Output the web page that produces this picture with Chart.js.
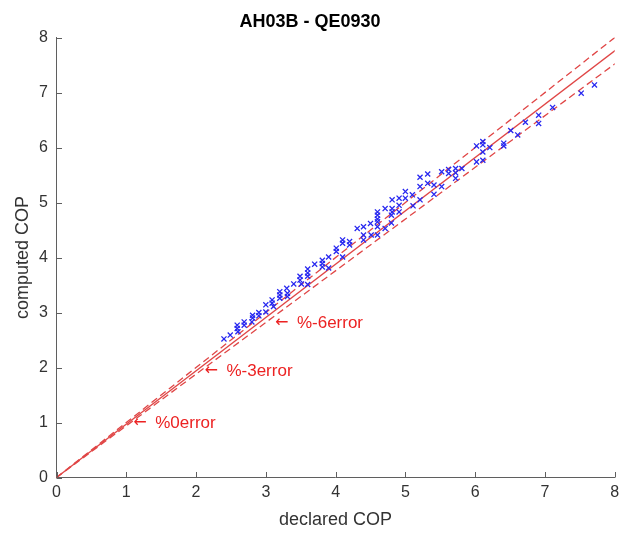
<!DOCTYPE html>
<html><head><meta charset="utf-8">
<script src="https://cdn.jsdelivr.net/npm/chart.js@4"></script>
<style>html,body{margin:0;padding:0;background:#fff;}</style>
</head><body>
<canvas id="c" width="620" height="534" style="display:block;width:620px;height:534px"></canvas>
<script>
const titleText = 'AH03B - QE0930';
const xTitle = 'declared COP';
const yTitle = 'computed COP';
const xTicks = [0, 1, 2, 3, 4, 5, 6, 7, 8];
const yTicks = [0, 1, 2, 3, 4, 5, 6, 7, 8];
const declared = [2.40,2.49,2.59,2.59,2.60,2.69,2.69,2.81,2.81,2.80,2.90,2.90,3.00,3.00,3.09,3.09,3.11,3.20,3.20,3.20,
  3.30,3.31,3.31,3.40,3.49,3.49,3.51,3.60,3.60,3.60,3.60,3.70,3.81,3.81,3.81,3.90,3.90,4.01,4.01,4.10,
  4.10,4.10,4.20,4.20,4.31,4.40,4.40,4.40,4.50,4.51,4.60,4.60,4.60,4.60,4.60,4.60,4.71,4.71,4.81,4.81,
  4.81,4.80,4.80,4.91,4.91,4.91,5.00,5.00,5.10,5.11,5.21,5.21,5.21,5.32,5.32,5.41,5.41,5.52,5.52,5.62,
  5.62,5.72,5.72,5.72,5.81,6.02,6.02,6.11,6.11,6.11,6.11,6.21,6.41,6.41,6.51,6.61,6.72,6.91,6.91,7.11,
  7.52,7.71];
const computed = [2.52,2.59,2.77,2.71,2.65,2.83,2.77,2.95,2.90,2.83,3.00,2.94,3.14,3.01,3.23,3.17,3.11,3.38,3.32,3.26,
  3.44,3.35,3.29,3.52,3.66,3.59,3.52,3.79,3.72,3.66,3.51,3.88,3.95,3.89,3.83,4.01,3.81,4.17,4.11,4.32,
  4.26,4.01,4.29,4.23,4.53,4.56,4.41,4.32,4.62,4.41,4.83,4.77,4.70,4.65,4.56,4.41,4.89,4.53,5.05,4.89,
  4.83,4.77,4.63,5.08,4.95,4.83,5.20,5.08,5.14,4.94,5.46,5.29,5.05,5.52,5.35,5.32,5.15,5.56,5.29,5.60,
  5.53,5.62,5.54,5.44,5.62,6.03,5.74,6.11,6.05,5.92,5.77,6.00,6.08,6.03,6.31,6.23,6.46,6.59,6.44,6.73,
  6.99,7.14];
const errorLevels = [0, -3, -6];
const errorLabels = ['%0error', '%-3error', '%-6error'];
const labelX = [1.10, 2.12, 3.13];
const labelY = [0.99, 1.94, 2.81];
const lineDashes = [[7, 4], [], [7, 4]];
const refX = [0, 8.6];

const axisColor = 'rgb(95,95,95)';
const textColor = '#333333';
const lineColor = 'rgb(224,70,70)';
const annColor = 'rgb(236,34,34)';
const blue = 'rgb(40,40,240)';
const fam = '"Liberation Sans", Arial, Helvetica, sans-serif';

const datasets = [{
  label: 'data',
  data: declared.map((x, i) => ({x: x, y: computed[i]})),
  pointStyle: 'crossRot',
  pointRadius: 3.6,
  pointBorderWidth: 1.3,
  borderColor: blue,
  backgroundColor: blue,
  showLine: false
}];
errorLevels.forEach((lv, i) => {
  datasets.push({
    label: errorLabels[i],
    data: refX.map(x => ({x: x, y: x * (1 + lv / 100)})),
    showLine: true,
    pointRadius: 0,
    borderColor: lineColor,
    borderWidth: 1.3,
    borderDash: lineDashes[i],
    fill: false
  });
});

const inwardTicks = {
  id: 'inwardTicks',
  afterDraw(chart) {
    const {ctx, chartArea, scales} = chart;
    ctx.save();
    ctx.strokeStyle = axisColor;
    ctx.lineWidth = 1;
    ctx.beginPath();
    xTicks.forEach(v => {
      const px = Math.round(scales.x.getPixelForValue(v)) + 0.5;
      ctx.moveTo(px, chartArea.bottom);
      ctx.lineTo(px, chartArea.bottom - 5.5);
    });
    yTicks.forEach(v => {
      const py = Math.round(scales.y.getPixelForValue(v)) + 0.5;
      ctx.moveTo(chartArea.left, py);
      ctx.lineTo(chartArea.left + 5.5, py);
    });
    ctx.stroke();
    ctx.restore();
  }
};

const annotations = {
  id: 'annotations',
  afterDatasetsDraw(chart) {
    const {ctx, scales} = chart;
    ctx.save();
    ctx.fillStyle = annColor;
    ctx.textBaseline = 'middle';
    ctx.textAlign = 'left';
    errorLabels.forEach((t, i) => {
      const px = scales.x.getPixelForValue(labelX[i]);
      const py = scales.y.getPixelForValue(labelY[i]);
      ctx.font = '16px "DejaVu Sans", sans-serif';
      ctx.fillText('\u2190', px, py);
      ctx.font = '17px ' + fam;
      ctx.fillText(t, px + 22, py);
    });
    ctx.restore();
  }
};

new Chart(document.getElementById('c'), {
  type: 'scatter',
  data: {datasets},
  options: {
    responsive: false,
    animation: false,
    devicePixelRatio: 1,
    layout: {padding: 0},
    plugins: {
      legend: {display: false},
      tooltip: {enabled: false},
      title: {
        display: true,
        text: titleText,
        color: '#000',
        font: {family: fam, size: 18, weight: 'bold'},
        padding: {top: 11, bottom: 5}
      }
    },
    scales: {
      x: {
        type: 'linear', min: 0, max: 8,
        afterBuildTicks(s) { s.ticks = xTicks.map(v => ({value: v})); },
        afterFit(s) { s.height = 56.5; s.paddingRight = 1; s.paddingLeft = 0; },
        ticks: {color: textColor, font: {family: fam, size: 16}, padding: 5, maxRotation: 0, autoSkip: false},
        grid: {display: true, drawOnChartArea: false, drawTicks: false},
        border: {display: true, color: axisColor, width: 1},
        title: {display: true, text: xTitle, color: textColor, font: {family: fam, size: 18}, padding: {top: 0, bottom: 3}}
      },
      y: {
        type: 'linear', min: 0, max: 8,
        afterBuildTicks(s) { s.ticks = yTicks.map(v => ({value: v})); },
        afterFit(s) { s.width = 56.5; },
        ticks: {color: textColor, font: {family: fam, size: 16}, padding: 8.5, autoSkip: false},
        grid: {display: true, drawOnChartArea: false, drawTicks: false},
        border: {display: true, color: axisColor, width: 1},
        title: {display: true, text: yTitle, color: textColor, font: {family: fam, size: 18}, padding: {top: 12, bottom: 0}}
      }
    }
  },
  plugins: [inwardTicks, annotations]
});
</script>
</body></html>
